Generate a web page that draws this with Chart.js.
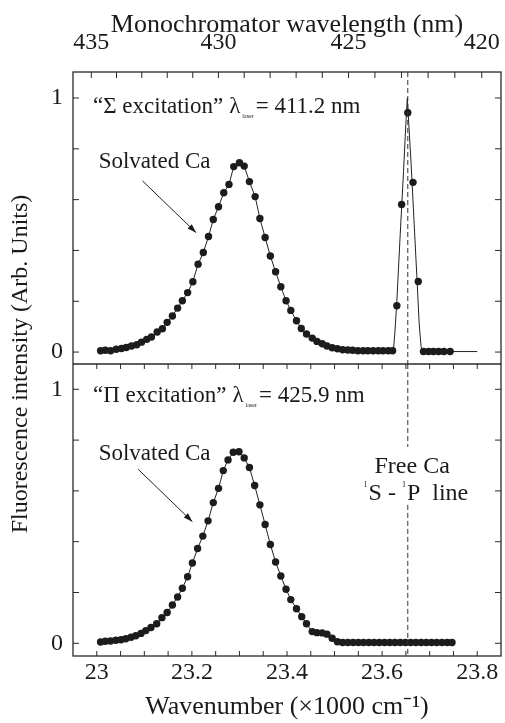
<!DOCTYPE html>
<html><head><meta charset="utf-8">
<script src="https://cdn.jsdelivr.net/npm/chart.js@4.4.1/dist/chart.umd.min.js"></script>
<style>html,body{margin:0;padding:0;background:#fff;overflow:hidden}canvas{display:block}</style>
</head><body>
<canvas id="c" width="505" height="723"></canvas>
<script>
// ---------------- data ----------------
// top panel ("Sigma excitation"): solvated Ca band
const solvTopX = [23.008,23.018,23.029,23.041,23.052,23.062,23.073,23.084,23.094,23.105,
  23.115,23.127,23.138,23.148,23.159,23.170,23.180,23.191,23.202,23.213,
  23.224,23.235,23.245,23.256,23.267,23.278,23.288,23.300,23.310,23.321,
  23.333,23.343,23.354,23.365,23.376,23.387,23.398,23.408,23.420,23.430,
  23.441,23.453,23.463,23.474,23.484,23.495,23.506,23.517,23.528,23.538,
  23.549,23.560,23.570,23.581,23.592,23.602,23.613,23.622];
const solvTopY = [0.005,0.007,0.005,0.011,0.014,0.018,0.024,0.029,0.039,0.050,
  0.059,0.079,0.092,0.117,0.142,0.173,0.202,0.234,0.277,0.346,
  0.392,0.455,0.522,0.572,0.627,0.660,0.730,0.745,0.732,0.671,
  0.612,0.526,0.451,0.378,0.316,0.257,0.202,0.164,0.123,0.093,
  0.071,0.055,0.042,0.033,0.024,0.017,0.013,0.009,0.008,0.007,
  0.005,0.005,0.005,0.005,0.005,0.005,0.005,0.005];
// top panel: free Ca line points
const freeTopX = [23.631,23.641,23.654,23.665,23.676];
const freeTopY = [0.182,0.581,0.942,0.668,0.278];
const tailTopX = [23.687,23.698,23.708,23.719,23.730,23.743];
const tailTopY = [0.002,0.002,0.002,0.002,0.002,0.002];
// top panel: fitted free-Ca peak curve
const fitPeakX = [23.624,23.627,23.631,23.638,23.645,23.650,23.653,23.656,23.661,23.667,23.673,23.678,23.682,23.686,23.800];
const fitPeakY = [0.010,0.080,0.200,0.460,0.710,0.900,1.000,0.900,0.740,0.520,0.300,0.110,0.020,0.002,0.002];
// bottom panel ("Pi excitation")
const botX = [23.008,23.018,23.029,23.040,23.051,23.061,23.072,23.082,23.093,23.103,
  23.114,23.126,23.137,23.148,23.159,23.170,23.180,23.191,23.201,23.212,
  23.223,23.234,23.245,23.256,23.266,23.276,23.287,23.299,23.310,23.321,
  23.332,23.343,23.354,23.365,23.376,23.387,23.398,23.408,23.420,23.431,
  23.441,23.453,23.463,23.474,23.484,23.495,23.506,
  23.517,23.528,23.539,23.550,23.561,23.572,23.583,23.594,23.605,23.616,
  23.627,23.638,23.649,23.660,23.671,23.682,23.693,23.704,23.715,23.726,23.737,23.747];
const botY = [0.005,0.008,0.009,0.012,0.014,0.018,0.024,0.030,0.039,0.050,
  0.062,0.077,0.101,0.121,0.151,0.182,0.217,0.262,0.316,0.373,
  0.422,0.482,0.554,0.610,0.680,0.722,0.752,0.754,0.730,0.692,
  0.621,0.545,0.468,0.389,0.320,0.265,0.213,0.172,0.136,0.105,
  0.077,0.046,0.042,0.041,0.036,0.020,0.006,
  0.003,0.003,0.003,0.003,0.003,0.003,0.003,0.003,0.003,0.003,
  0.003,0.003,0.003,0.003,0.003,0.003,0.003,0.003,0.003,0.003,0.003,0.003];
// free Ca 1S-1P line position (x1000 cm^-1)
const freeCaLine = 23.654;
// ticks
const xTicks = [23.00,23.05,23.10,23.15,23.20,23.25,23.30,23.35,23.40,23.45,23.50,23.55,23.60,23.65,23.70,23.75,23.80];
const xLabelValues = [23.0,23.2,23.4,23.6,23.8];
const xLabelTexts = ['23','23.2','23.4','23.6','23.8'];
const wlTicks = [435,434,433,432,431,430,429,428,427,426,425,424,423,422,421,420];
const wlLabels = [435,430,425,420];
const yTicks = [0,0.2,0.4,0.6,0.8,1];
const yLabelValues = [0,1];
const yLabelTexts = ['0','1'];

// ---------------- styling ----------------
const FONT = '"Liberation Serif","Times New Roman",serif';
const INK = '#1a1a1a';
const X_MIN = 22.95, X_MAX = 23.85;
const TOP_RANGE = [-0.047, 1.1024];
const BOT_RANGE = [-0.05, 1.0996];

const pts = (xs, ys) => xs.map((x, i) => ({x, y: ys[i]}));
const dotStyle = {showLine:false, pointRadius:3.7, pointHoverRadius:3.7, pointBackgroundColor:'#1c1c1c', pointBorderWidth:0, borderWidth:0};
const lineStyle = {showLine:true, pointRadius:0, borderColor:'#222', borderWidth:1, tension:0, fill:false};

function labelFor(values, texts, v) {
  for (let i = 0; i < values.length; i++) if (Math.abs(values[i] - v) < 1e-6) return texts[i];
  return '';
}
const noPad = s => { s.paddingLeft = 0; s.paddingRight = 0; s.paddingTop = 0; s.paddingBottom = 0; };

const notes = {
  topHead: {panel:'yTop', x:22.992, y:0.942, main:'\u201C\u03A3 excitation\u201D', val:'= 411.2 nm'},
  botHead: {panel:'yBot', x:22.992, y:0.951, main:'\u201C\u03A0 excitation\u201D', val:'= 425.9 nm'},
  topSolv: {panel:'yTop', x:23.004, y:0.723, text:'Solvated Ca', arrow:[23.096,0.674,23.209,0.470]},
  botSolv: {panel:'yBot', x:23.004, y:0.722, text:'Solvated Ca', arrow:[23.087,0.685,23.201,0.479]},
  free1: {panel:'yBot', x:23.584, y:0.669, text:'Free Ca'},
  free2: {panel:'yBot', x:23.561, y:0.564},
  dashGap: [0.773, 0.545]
};

const deco = {
  id: 'deco',
  afterDraw(chart) {
    const {ctx, chartArea: a, scales} = chart;
    const sx = scales.x, st = scales.xTop, yT = scales.yTop, yB = scales.yBot;
    const mid = yT.bottom;
    const seg = (x1, y1, x2, y2) => { ctx.beginPath(); ctx.moveTo(x1, y1); ctx.lineTo(x2, y2); ctx.stroke(); };
    ctx.save();
    ctx.strokeStyle = '#2a2a2a'; ctx.lineWidth = 1.3;
    ctx.strokeRect(a.left, a.top, a.right - a.left, a.bottom - a.top);
    seg(a.left, mid, a.right, mid);
    ctx.lineWidth = 1;
    st.ticks.forEach(t => { const p = st.getPixelForValue(t.value); seg(p, a.top, p, a.top + 6); });
    sx.ticks.forEach(t => { const p = sx.getPixelForValue(t.value); seg(p, mid, p, mid + 5); seg(p, a.bottom, p, a.bottom - 5); });
    [yT, yB].forEach(s => s.ticks.forEach(t => {
      const p = s.getPixelForValue(t.value); seg(a.left, p, a.left + 6, p); seg(a.right, p, a.right - 6, p);
    }));
    // dashed free-Ca line
    const fx = sx.getPixelForValue(freeCaLine);
    ctx.setLineDash([5, 3]); ctx.strokeStyle = '#333';
    seg(fx, a.top, fx, mid);
    seg(fx, mid, fx, yB.getPixelForValue(notes.dashGap[0]));
    seg(fx, yB.getPixelForValue(notes.dashGap[1]), fx, a.bottom);
    ctx.setLineDash([]);
    // texts
    ctx.fillStyle = INK; ctx.textBaseline = 'alphabetic'; ctx.textAlign = 'left';
    const put = (s, x, y, size) => { ctx.font = size + 'px ' + FONT; ctx.fillText(s, x, y); return ctx.measureText(s).width; };
    [notes.topHead, notes.botHead].forEach(n => {
      let x = sx.getPixelForValue(n.x); const y = scales[n.panel].getPixelForValue(n.y);
      x += put(n.main, x, y, 23) + 6;
      x += put('\u03BB', x, y, 23) + 2;
      x += put('laser', x, y + 5, 6) + 2;
      put(n.val, x, y, 23);
    });
    [notes.topSolv, notes.botSolv].forEach(n => {
      const s = scales[n.panel];
      put(n.text, sx.getPixelForValue(n.x), s.getPixelForValue(n.y), 23);
      const [x1, y1, x2, y2] = n.arrow;
      const p1 = [sx.getPixelForValue(x1), s.getPixelForValue(y1)], p2 = [sx.getPixelForValue(x2), s.getPixelForValue(y2)];
      ctx.strokeStyle = '#222'; ctx.lineWidth = 1;
      seg(p1[0], p1[1], p2[0], p2[1]);
      const ang = Math.atan2(p2[1] - p1[1], p2[0] - p1[0]);
      ctx.beginPath();
      ctx.moveTo(p2[0], p2[1]);
      ctx.lineTo(p2[0] - 9 * Math.cos(ang) + 3 * Math.sin(ang), p2[1] - 9 * Math.sin(ang) - 3 * Math.cos(ang));
      ctx.lineTo(p2[0] - 9 * Math.cos(ang) - 3 * Math.sin(ang), p2[1] - 9 * Math.sin(ang) + 3 * Math.cos(ang));
      ctx.closePath(); ctx.fill();
    });
    put(notes.free1.text, sx.getPixelForValue(notes.free1.x), yB.getPixelForValue(notes.free1.y), 24);
    {
      let x = sx.getPixelForValue(notes.free2.x); const y = yB.getPixelForValue(notes.free2.y);
      x += put('1', x, y - 13, 8) + 1;
      x += put('S - ', x, y, 24);
      x += put('1', x, y - 13, 8) + 1;
      put('P  line', x, y, 24);
    }
    ctx.restore();
  }
};

const tickFont = {family: FONT, size: 24};
new Chart(document.getElementById('c'), {
  type: 'scatter',
  data: {
    datasets: [
      Object.assign({data: pts(solvTopX, solvTopY), yAxisID: 'yTop'}, dotStyle),
      Object.assign({data: pts(freeTopX, freeTopY), yAxisID: 'yTop'}, dotStyle),
      Object.assign({data: pts(tailTopX, tailTopY), yAxisID: 'yTop'}, dotStyle),
      Object.assign({data: pts(botX, botY), yAxisID: 'yBot'}, dotStyle),
      Object.assign({data: pts(solvTopX.concat(fitPeakX), solvTopY.concat(fitPeakY)), yAxisID: 'yTop'}, lineStyle),
      Object.assign({data: pts(botX, botY), yAxisID: 'yBot'}, lineStyle)
    ]
  },
  options: {
    responsive: false, animation: false, devicePixelRatio: 1,
    layout: {padding: {left: 0, right: 4, top: 0, bottom: 0}},
    plugins: {legend: {display: false}, tooltip: {enabled: false}},
    scales: {
      x: {
        type: 'linear', position: 'bottom', min: X_MIN, max: X_MAX,
        grid: {display: false, drawTicks: false}, border: {display: false},
        afterBuildTicks: s => { s.ticks = xTicks.map(v => ({value: v})); },
        afterFit: s => { s.height = 67; noPad(s); },
        ticks: {autoSkip: false, maxRotation: 0, padding: 2, color: INK, font: tickFont,
          callback: v => labelFor(xLabelValues, xLabelTexts, v)},
        title: {display: true, text: 'Wavenumber (\u00D71000 cm\u207B\u00B9)', color: INK,
          font: {family: FONT, size: 26}, padding: {top: 0, bottom: 0}}
      },
      xTop: {
        type: 'linear', position: 'top', min: X_MIN, max: X_MAX,
        grid: {display: false, drawTicks: false}, border: {display: false},
        afterBuildTicks: s => { s.ticks = wlTicks.map(w => ({value: 1e4 / w})); },
        afterFit: s => { s.height = 72; noPad(s); },
        ticks: {autoSkip: false, maxRotation: 0, padding: 15, color: INK, font: tickFont,
          callback: v => { const w = Math.round(1e4 / v); return wlLabels.includes(w) ? String(w) : ''; }},
        title: {display: true, text: 'Monochromator wavelength (nm)', color: INK,
          font: {family: FONT, size: 26}, padding: {top: 10, bottom: 0}}
      },
      y: {
        type: 'linear', position: 'left', weight: 3, min: 0, max: 1,
        grid: {display: false, drawTicks: false}, border: {display: false},
        ticks: {display: false},
        afterFit: s => { s.width = 38; noPad(s); },
        title: {display: true, text: 'Fluorescence intensity (Arb. Units)', color: INK,
          font: {family: FONT, size: 24}, padding: {top: 6, bottom: 0}}
      },
      yTop: {
        type: 'linear', position: 'left', stack: 'panels', stackWeight: 1, weight: 2,
        min: TOP_RANGE[0], max: TOP_RANGE[1],
        grid: {display: false, drawTicks: false}, border: {display: false},
        afterBuildTicks: s => { s.ticks = yTicks.map(v => ({value: v})); },
        afterFit: s => { s.width = 35; noPad(s); },
        ticks: {autoSkip: false, padding: 10, color: INK, font: tickFont,
          callback: v => labelFor(yLabelValues, yLabelTexts, v)}
      },
      yBot: {
        type: 'linear', position: 'left', stack: 'panels', stackWeight: 1, weight: 1,
        min: BOT_RANGE[0], max: BOT_RANGE[1],
        grid: {display: false, drawTicks: false}, border: {display: false},
        afterBuildTicks: s => { s.ticks = yTicks.map(v => ({value: v})); },
        afterFit: s => { s.width = 35; noPad(s); },
        ticks: {autoSkip: false, padding: 10, color: INK, font: tickFont,
          callback: v => labelFor(yLabelValues, yLabelTexts, v)}
      }
    }
  },
  plugins: [deco]
});
</script>
</body></html>
